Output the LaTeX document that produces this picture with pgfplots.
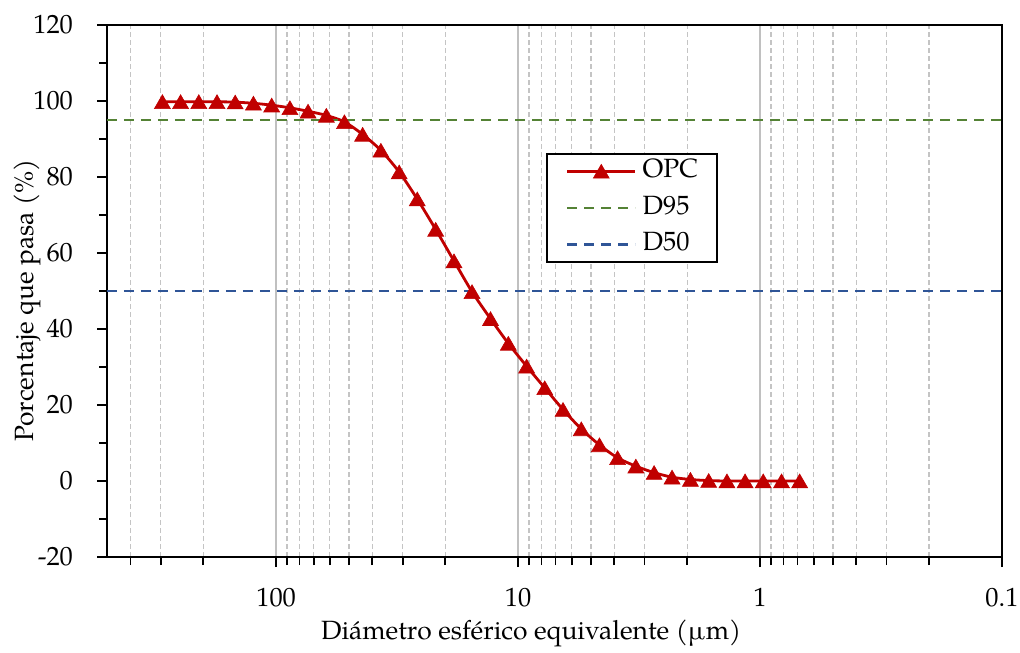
\documentclass[border=0pt]{standalone}
\usepackage{pgfplots}
\pgfplotsset{compat=1.18}
\usepackage{pgfplotstable}
\usepackage{fontspec}
\setmainfont{texgyrepagella}[Extension=.otf,UprightFont=*-regular,BoldFont=*-bold,ItalicFont=*-italic,BoldItalicFont=*-bolditalic]
\definecolor{opcred}{HTML}{C00000}
\definecolor{dgreen}{HTML}{548235}
\definecolor{dblue}{HTML}{2F5597}
\definecolor{gridgray}{HTML}{C0C0C0}
\definecolor{mgray}{HTML}{C4C4C4}

\pgfplotstableread{
d p
295.1 99.8
248.2 99.8
208.7 99.8
175.5 99.8
147.6 99.7
124.1 99.4
104.3 98.9
87.7 98.2
73.8 97.3
62.0 96.2
52.2 94.5
43.9 91.2
36.9 87.0
31.0 81.3
26.1 74.2
21.9 66.2
18.4 57.9
15.5 49.8
13.0 42.7
10.97 36.2
9.22 30.2
7.76 24.5
6.52 18.8
5.48 13.7
4.61 9.5
3.88 6.1
3.26 3.9
2.74 2.2
2.31 1.0
1.94 0.4
1.63 0.1
1.37 0
1.153 0
0.970 0
0.815 0
0.686 0
}\opc

\begin{document}
\begin{tikzpicture}[font=\fontsize{13.2}{15.8}\selectfont]
\begin{axis}[
  scale only axis, width=447.5pt, height=266pt,
  xmode=log, x dir=reverse, xmin=0.1, xmax=500,
  ymin=-20, ymax=120,
  xtick={0.1,1,10,100}, xticklabels={0.1,1,10,100},
  minor xtick={0.2,0.3,0.4,0.5,0.6,0.7,0.8,0.9,2,3,4,5,6,7,8,9,20,30,40,50,60,70,80,90,200,300,400},
  ytick={-20,0,20,40,60,80,100,120}, yticklabels={-20,0,20,40,60,80,100,120},
  minor ytick={-10,10,30,50,70,90,110},
  xmajorgrids, xminorgrids,
  major grid style={gridgray, line width=1.1pt},
  minor grid style={mgray, line width=0.7pt, dash pattern=on 2.5pt off 1.5pt},
  axis line style={line width=1pt, black},
  tick style={black, line width=0.9pt},
  tick align=outside,
  major tick length=5pt, minor tick length=4pt,
  xtick pos=lower, ytick pos=left,
  xticklabel style={anchor=base, yshift=-19.5pt},
  yticklabel style={anchor=east, xshift=-8.5pt},
  xlabel={Diámetro esférico equivalente (µm)},
  ylabel={Porcentaje que pasa (\%)},
  xlabel style={at={(axis description cs:0.474,-0.143)}, anchor=center},
  ylabel style={at={(axis description cs:-0.0894,0.483)}, anchor=center},
  legend style={at={(axis description cs:0.4905,0.7594)}, anchor=north west,
    draw=black, line width=0.9pt, inner xsep=9.5pt, inner ysep=2.5pt,
    row sep=5.75pt, column sep=3pt,
    nodes={inner sep=0pt, text height=9.5pt, text depth=3pt},
    legend cell align=left},
  legend image code/.code={\draw[mark repeat=2,mark phase=2,#1] plot coordinates {(0pt,0pt) (17pt,0pt) (34pt,0pt)};},
]
\addplot[opcred, line width=1.4pt, smooth, mark=triangle*, mark size=4.6pt,
  mark options={solid, fill=opcred, draw=opcred, line width=0.3pt, yshift=-1.1pt}]
  table[x=d, y=p] {\opc};
\addlegendentry{OPC}
\addplot[dgreen, line width=1.3pt, dash pattern=on 5pt off 3.5pt] coordinates {(500,95) (0.1,95)};
\addlegendentry{D95}
\addplot[dblue, line width=1.3pt, dash pattern=on 5pt off 3.5pt] coordinates {(500,50) (0.1,50)};
\addlegendentry{D50}
\end{axis}
\pgfresetboundingbox
\path[use as bounding box] ([shift={(-53.5pt,-47.5pt)}]current axis.south west) rectangle ([shift={(9pt,12.5pt)}]current axis.north east);
\end{tikzpicture}
\end{document}
